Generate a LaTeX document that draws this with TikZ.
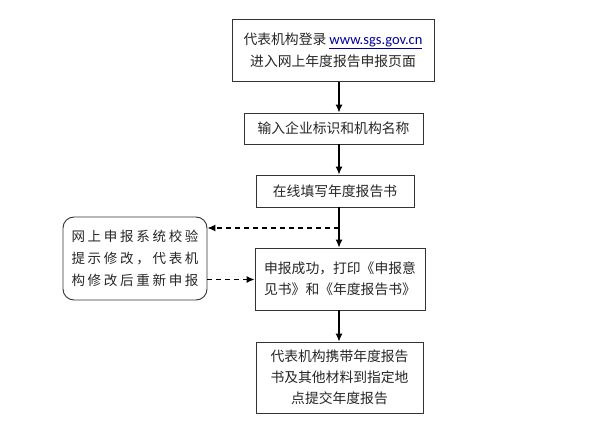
\documentclass[tikz,border=0pt]{standalone}
\usepackage{fontspec}
\setmainfont{Noto Sans CJK SC}
\newfontfamily\urlfont{Carlito}
\usetikzlibrary{arrows.meta,calc}
\tikzset{
  box/.style={draw=black!80, line width=0.9pt, inner sep=0pt, align=center, font=\fontsize{13.8}{21}\selectfont, text=black!85},
  flow/.style={line width=1.1pt, -{Latex[length=8pt,width=7pt]}},
  dflow/.style={line width=1.1pt, dashed, dash pattern=on 5pt off 4pt, -{Latex[length=8pt,width=7pt]}}
}
\begin{document}
\begin{tikzpicture}[x=1pt,y=-1pt]
\useasboundingbox (0,0) rectangle (595,428);
\fill[white] (0,0) rectangle (595,428);
\node[box, minimum width=202, minimum height=62, font=\fontsize{13.8}{22}\selectfont] (b1) at (333,50.5) {代表机构登录 {\urlfont\fontsize{14.5}{22}\selectfont\color{blue!60!black}\underline{www.sgs.gov.cn}}\\进入网上年度报告申报页面};
\node[box, minimum width=179, minimum height=31] (b2) at (333.5,128.5) {输入企业标识和机构名称};
\node[box, minimum width=158, minimum height=32] (b3) at (335,191) {在线填写年度报告书};
\node[box, minimum width=170, minimum height=62] (b4) at (340,279) {申报成功，打印《申报意\\见书》和《年度报告书》};
\node[box, minimum width=167, minimum height=71] (b5) at (339.5,377.5) {代表机构携带年度报告\\书及其他材料到指定地\\点提交年度报告};
\node[box, rounded corners=11pt, minimum width=144, minimum height=83, align=left, font=\fontsize{13.5}{22}\selectfont\addfontfeature{LetterSpace=20}] (lb) at (135,258.5) {网上申报系统校验\\提示修改，代表机\\构修改后重新申报};
\coordinate (c) at (339,228);
\coordinate (d) at (207,279.5);
\draw[flow] (b1.south -| c) -- (b2.north -| c);
\draw[flow] (b2.south -| c) -- (b3.north -| c);
\draw[flow] (b3.south -| c) -- (b4.north -| c);
\draw[flow] (b4.south -| c) -- (b5.north -| c);
\draw[dflow] (c) -- (c -| lb.east);
\draw[dflow] (d) -- (d -| b4.west);
\end{tikzpicture}
\end{document}
